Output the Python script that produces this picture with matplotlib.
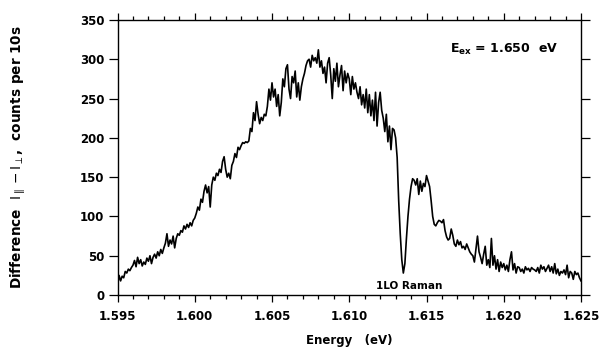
import numpy as np
import matplotlib
matplotlib.use("Agg")
import matplotlib.pyplot as plt
from matplotlib.ticker import MultipleLocator, FormatStrFormatter

# Polarization difference spectrum, sampled every 0.1 meV from 1.5950 to 1.6250 eV
energy_start = 1.595
energy_step = 0.0001

counts = [
    # 1.595
    12, 25, 18, 24, 22, 30, 28, 33, 31, 35,
    # 1.596
    38, 44, 36, 48, 40, 45, 37, 42, 39, 47,
    # 1.597
    43, 50, 40, 48, 52, 47, 55, 50, 58, 53,
    # 1.598
    60, 66, 78, 62, 70, 65, 75, 60, 72, 78,
    # 1.599
    76, 82, 80, 88, 84, 90, 86, 92, 88, 95,
    # 1.600
    98, 104, 112, 108, 122, 118, 132, 140, 130, 138,
    # 1.601
    112, 140, 150, 146, 155, 152, 160, 156, 170, 176,
    # 1.602
    160, 150, 155, 148, 165, 170, 180, 175, 188, 185,
    # 1.603
    190, 194, 193, 195, 194, 196, 212, 208, 232, 222,
    # 1.604
    246, 230, 218, 226, 222, 230, 228, 240, 262, 248,
    # 1.605
    270, 252, 262, 240, 255, 228, 245, 275, 265, 288,
    # 1.606
    293, 262, 250, 278, 270, 285, 252, 270, 248, 265,
    # 1.607
    275, 282, 292, 298, 300, 290, 305, 298, 302, 295,
    # 1.608
    312, 290, 298, 282, 290, 270, 295, 302, 280, 250,
    # 1.609
    288, 272, 295, 265, 280, 292, 260, 285, 270, 282,
    # 1.610
    275, 255, 278, 262, 270, 258, 250, 265, 242, 255,
    # 1.611
    238, 262, 232, 255, 228, 248, 222, 258, 215, 245,
    # 1.612
    258, 235, 225, 208, 230, 195, 215, 185, 212, 210,
    # 1.613
    200, 175, 120, 78, 45, 28, 40, 72, 100, 122,
    # 1.614
    138, 148, 146, 140, 148, 128, 145, 132, 142, 138,
    # 1.615
    152, 145, 138, 120, 100, 90, 88, 92, 95, 94,
    # 1.616
    92, 96, 82, 74, 70, 72, 84, 76, 65, 62,
    # 1.617
    70, 64, 68, 60, 62, 58, 65, 60, 55, 52,
    # 1.618
    50, 42, 58, 75, 55, 48, 40, 52, 62, 38,
    # 1.619
    45, 35, 72, 38, 50, 33, 45, 30, 42, 35,
    # 1.620
    40, 32, 38, 30, 45, 55, 32, 40, 28, 36,
    # 1.621
    35, 30, 33, 28, 36, 32, 34, 30, 35, 33,
    # 1.622
    32, 30, 35, 28, 38, 33, 36, 30, 34, 38,
    # 1.623
    30, 36, 28, 40, 27, 33, 25, 30, 28, 32,
    # 1.624
    26, 38, 22, 30, 28, 20, 30, 26, 28, 22,
    # 1.625
    18,
]

energy = energy_start + energy_step * np.arange(len(counts))

x_ticks = [1.595, 1.600, 1.605, 1.610, 1.615, 1.620, 1.625]
y_ticks = [0, 50, 100, 150, 200, 250, 300, 350]

plt.rcParams["font.family"] = ["DejaVu Sans"]
plt.rcParams["mathtext.fontset"] = "dejavusans"

fig = plt.figure(figsize=(6.13, 3.50), dpi=100)
ax = fig.add_axes([0.1917, 0.157, 0.9478 - 0.1917, 0.943 - 0.157])

ax.plot(energy, counts, color="black", lw=1.2)

ax.set_xlim(1.595, 1.625)
ax.set_ylim(0, 350)
ax.set_xticks(x_ticks)
ax.set_yticks(y_ticks)
ax.xaxis.set_major_formatter(FormatStrFormatter("%.3f"))
ax.xaxis.set_minor_locator(MultipleLocator(0.001))

ax.tick_params(axis="both", which="both", direction="out", width=0.9,
               top=True, right=True, labelsize=8.5)
ax.tick_params(axis="y", which="major", length=6.5, labelright=False, pad=3)
ax.tick_params(axis="x", which="major", length=5, pad=6)
ax.tick_params(axis="x", which="minor", length=3)
for lab in ax.get_xticklabels() + ax.get_yticklabels():
    lab.set_fontweight("bold")

for sp in ax.spines.values():
    sp.set_linewidth(1.0)

ax.set_xlabel("Energy   (eV)", fontsize=8.5, fontweight="bold")
ax.xaxis.set_label_coords(0.5, -0.14)
ax.set_ylabel(r"Difference  $\mathrm{I}_{\parallel}-\mathrm{I}_{\perp}$,  counts per 10s",
              fontsize=9.8, fontweight="bold")
ax.yaxis.set_label_coords(-0.193, 0.5)

ax.text(1.6200, 312, r"E$_{\mathbf{ex}}$ = 1.650  eV", fontsize=9,
        fontweight="bold", ha="center", va="center")
ax.text(1.6139, 12, "1LO Raman", fontsize=7.5, fontweight="bold",
        ha="center", va="center")

fig.savefig("out.png", dpi=100)
